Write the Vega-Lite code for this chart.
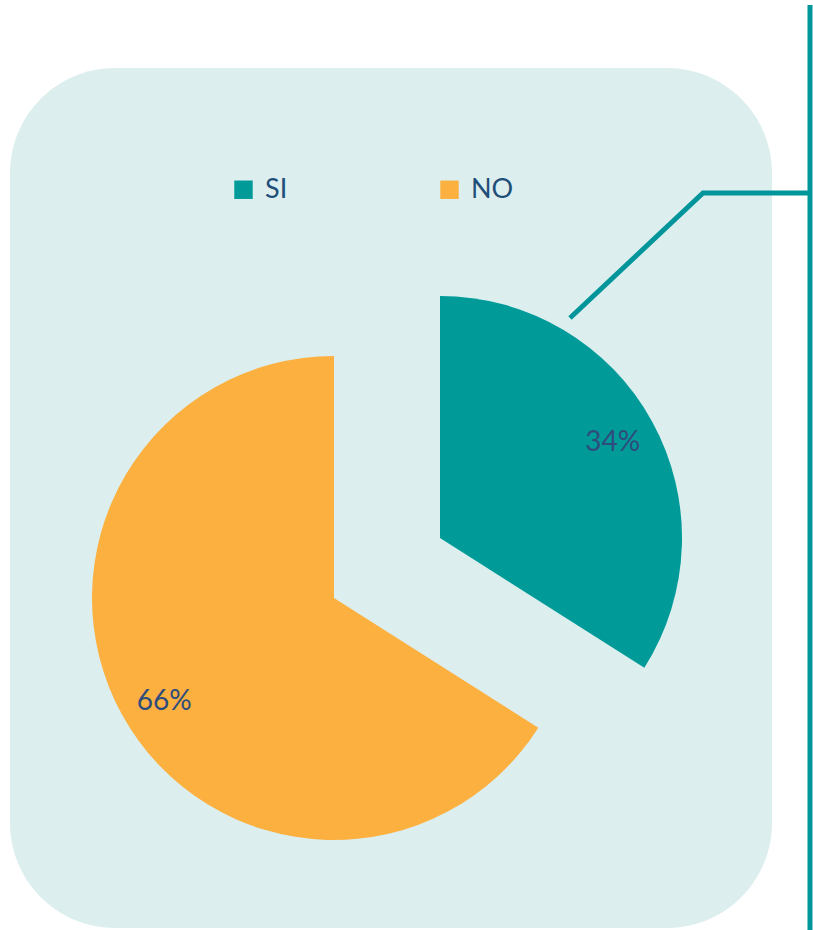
{
  "$schema": "https://vega.github.io/schema/vega-lite/v6.json",
  "autosize": "none",
  "width": 762,
  "height": 860,
  "padding": {"left": 10, "top": 68, "right": 41, "bottom": 2},
  "background": "white",
  "view": {"fill": "#DCEFEE", "stroke": null, "cornerRadius": 105},
  "config": {"font": "Lato"},
  "datasets": {
    "pie": [{"cat": "SI", "value": 0.34}, {"cat": "NO", "value": 0.66}],
    "conn": [{"i": 0, "px": 560, "py": 250}, {"i": 1, "px": 693, "py": 125}, {"i": 2, "px": 800, "py": 125}],
    "bar": [{"px": 800, "py": -63, "py2": 862}]
  },
  "layer": [
    {
      "data": {"name": "conn"},
      "mark": {"type": "line", "color": "#00959A", "strokeWidth": 5, "strokeJoin": "miter", "clip": false},
      "encoding": {
        "x": {"field": "px", "type": "quantitative", "scale": {"domain": [0, 762], "nice": false, "zero": false}, "axis": null},
        "y": {"field": "py", "type": "quantitative", "scale": {"domain": [0, 860], "reverse": true, "nice": false, "zero": false}, "axis": null},
        "order": {"field": "i", "type": "quantitative"}
      }
    },
    {
      "data": {"name": "bar"},
      "mark": {"type": "rule", "color": "#00959A", "strokeWidth": 5, "clip": false},
      "encoding": {
        "x": {"field": "px", "type": "quantitative"},
        "y": {"field": "py", "type": "quantitative"},
        "y2": {"field": "py2"}
      }
    },
    {
      "data": {"name": "pie"},
      "mark": {"type": "arc", "outerRadius": 242, "xOffset": -57, "yOffset": 100},
      "encoding": {
        "theta": {"field": "value", "type": "quantitative", "stack": true},
        "color": {
          "field": "cat", "type": "nominal",
          "scale": {"domain": ["SI", "NO"], "range": ["#009B98", "#FBB040"]},
          "legend": {
            "title": null, "orient": "none", "legendX": 220, "legendY": 108,
            "direction": "horizontal", "columns": 2, "gridAlign": "all", "columnPadding": 128,
            "symbolType": "square", "symbolSize": 340, "symbolStrokeWidth": 0, "symbolOpacity": 1,
            "labelFont": "Lato", "labelFontSize": 27, "labelColor": "#1F4E79", "labelOffset": 8, "padding": 0
          }
        },
        "order": {"field": "cat", "sort": "descending"},
        "opacity": {"condition": {"test": "datum.cat === 'NO'", "value": 1}, "value": 0}
      }
    },
    {
      "data": {"name": "pie"},
      "mark": {"type": "arc", "outerRadius": 242, "xOffset": 49, "yOffset": 40},
      "encoding": {
        "theta": {"field": "value", "type": "quantitative", "stack": true},
        "color": {"field": "cat", "type": "nominal"},
        "order": {"field": "cat", "sort": "descending"},
        "opacity": {"condition": {"test": "datum.cat === 'SI'", "value": 1}, "value": 0}
      }
    },
    {
      "data": {"name": "pie"},
      "mark": {"type": "text", "radius": 199, "thetaOffset": -0.045, "xOffset": -57, "yOffset": 100, "fontSize": 28, "font": "Lato", "color": "#2E4C7C"},
      "encoding": {
        "theta": {"field": "value", "type": "quantitative", "stack": true},
        "detail": {"field": "cat", "type": "nominal"},
        "order": {"field": "cat", "sort": "descending"},
        "text": {"field": "value", "type": "quantitative", "format": ".0%"},
        "opacity": {"condition": {"test": "datum.cat === 'NO'", "value": 1}, "value": 0}
      }
    },
    {
      "data": {"name": "pie"},
      "mark": {"type": "text", "radius": 197, "xOffset": 49, "yOffset": 40, "fontSize": 28, "font": "Lato", "color": "#2E4C7C"},
      "encoding": {
        "theta": {"field": "value", "type": "quantitative", "stack": true},
        "detail": {"field": "cat", "type": "nominal"},
        "order": {"field": "cat", "sort": "descending"},
        "text": {"field": "value", "type": "quantitative", "format": ".0%"},
        "opacity": {"condition": {"test": "datum.cat === 'SI'", "value": 1}, "value": 0}
      }
    }
  ]
}
